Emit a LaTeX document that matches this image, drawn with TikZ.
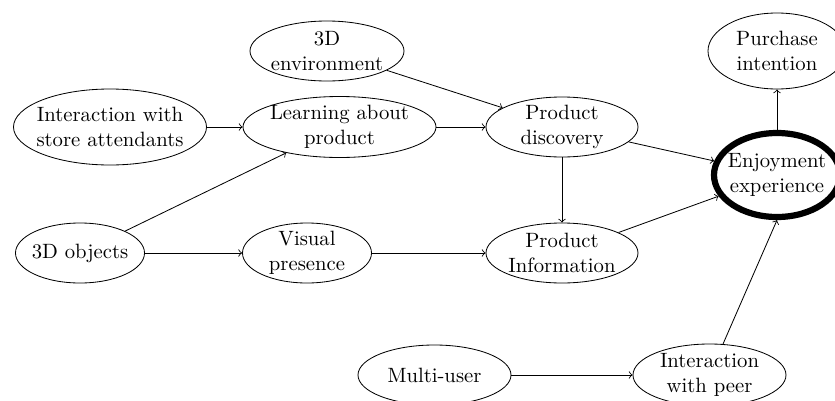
\documentclass[tikz,border=0pt]{standalone}
\usetikzlibrary{shapes.geometric}
\begin{document}
\begin{tikzpicture}[x=0.483pt,y=-0.483pt,
  ell/.style n args={2}{ellipse, draw, inner sep=0pt, minimum width=#1*0.483pt, minimum height=#2*0.483pt},
  txt/.style={align=center, inner sep=0pt},
  conn/.style={->}]
\useasboundingbox (0,0) rectangle (835,400);
\node[ell={154}{60}, label={[txt]center:3D\\environment}] (env) at (327,51) {};
\node[ell={138}{76}, label={[txt]center:Purchase\\intention}] (purch) at (777,51) {};
\node[ell={193}{76}, label={[txt]center:Interaction with\\store attendants}] (store) at (110,127) {};
\node[ell={193}{61}, label={[txt]center:Learning about\\product}] (learn) at (339.5,127) {};
\node[ell={152}{60}, label={[txt]center:Product\\discovery}] (disc) at (562,127) {};
\node[ell={126}{84}, line width=3pt, label={[txt]center:Enjoyment\\experience}] (enjoy) at (777,175) {};
\node[ell={129}{60}, label={[txt]center:3D objects}] (obj) at (80,253) {};
\node[ell={129}{60}, label={[txt]center:Visual\\presence}] (vis) at (307,253) {};
\node[ell={152}{60}, label={[txt]center:Product\\Information}] (info) at (562,253) {};
\node[ell={153}{60}, label={[txt]center:Multi-user}] (multi) at (434.5,375) {};
\node[ell={153}{62}, label={[txt]center:Interaction\\with peer}] (peer) at (709.5,375) {};
\draw[conn] (store) -- (learn);
\draw[conn] (obj) -- (learn);
\draw[conn] (env) -- (disc);
\draw[conn] (learn) -- (disc);
\draw[conn] (disc) -- (enjoy);
\draw[conn] (disc) -- (info);
\draw[conn] (obj) -- (vis);
\draw[conn] (vis) -- (info);
\draw[conn] (info) -- (enjoy);
\draw[conn] (multi) -- (peer);
\draw[conn] (peer) -- (enjoy.south);
\draw[conn] (enjoy) -- (purch);
\end{tikzpicture}
\end{document}
